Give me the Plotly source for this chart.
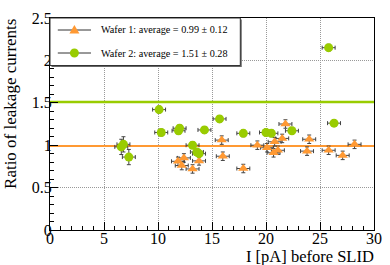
import plotly.graph_objects as go

# ---- data ----
wafer1_current = [11.85, 12.2, 12.4, 13.2, 13.8, 15.9, 16.0, 17.9, 19.2, 20.1,
                  20.7, 20.8, 21.1, 21.5, 21.8, 23.8, 24.0, 25.8, 27.1, 28.2]
wafer1_ratio = [0.81, 0.76, 0.85, 0.72, 0.815, 1.06, 0.87, 0.725, 1.00, 0.97,
                0.91, 1.04, 0.94, 1.08, 1.25, 0.93, 1.07, 0.94, 0.88, 1.01]
wafer1_current_err = [0.6] * len(wafer1_current)
wafer1_ratio_err = [0.05] * len(wafer1_ratio)

wafer2_current = [6.6, 6.8, 7.3, 10.1, 10.3, 11.9, 12.0, 13.2, 13.6, 13.8,
                  14.3, 15.7, 17.9, 20.0, 20.5, 22.4, 25.8, 26.3]
wafer2_ratio = [0.98, 1.01, 0.86, 1.42, 1.15, 1.17, 1.20, 1.00, 0.92, 0.90,
                1.18, 1.31, 1.14, 1.15, 1.14, 1.17, 2.15, 1.26]
wafer2_current_err = [0.6] * len(wafer2_current)
wafer2_ratio_err = [0.09, 0.09, 0.09, 0.04, 0.04, 0.04, 0.04, 0.04, 0.04, 0.04,
                    0.04, 0.04, 0.04, 0.04, 0.04, 0.04, 0.04, 0.04]

averages = [0.99, 1.51]
average_errs = [0.12, 0.28]
x_range = [0, 30]
y_range = [0, 2.5]

ORANGE = "#ff9933"
GREEN = "#99cc00"
FONT = "Liberation Serif"

W, H = 390, 265
L, R, T, B = 50, 8, 18, 35
PW, PH = W - L - R, H - T - B


def px(xp):
    return (xp - L) / PW


def py(yp):
    return (H - B - yp) / PH


fig = go.Figure()

# average lines
fig.add_trace(go.Scatter(x=x_range, y=[averages[0]] * 2, mode="lines",
                         line=dict(color=ORANGE, width=2), hoverinfo="skip", showlegend=False))
fig.add_trace(go.Scatter(x=x_range, y=[averages[1]] * 2, mode="lines",
                         line=dict(color=GREEN, width=2.5), hoverinfo="skip", showlegend=False))

err_style = dict(type="data", color="#444444", thickness=1, width=2)

fig.add_trace(go.Scatter(
    x=wafer1_current, y=wafer1_ratio, mode="markers",
    marker=dict(symbol="triangle-up", size=9, color=ORANGE, line=dict(width=0)),
    error_x=dict(array=wafer1_current_err, **err_style),
    error_y=dict(array=wafer1_ratio_err, **err_style),
    showlegend=False))

fig.add_trace(go.Scatter(
    x=wafer2_current, y=wafer2_ratio, mode="markers",
    marker=dict(symbol="circle", size=9, color=GREEN, line=dict(width=0)),
    error_x=dict(array=wafer2_current_err, **err_style),
    error_y=dict(array=wafer2_ratio_err, **err_style),
    showlegend=False))

shapes = []
annotations = []

# legend box
shapes.append(dict(type="rect", xref="paper", yref="paper",
                   x0=px(51.5), x1=px(246.5), y0=py(67), y1=py(19.5),
                   fillcolor="#666666", line=dict(width=0), layer="above"))
shapes.append(dict(type="rect", xref="paper", yref="paper",
                   x0=0, x1=px(245), y0=py(65.5), y1=1,
                   fillcolor="white", line=dict(color="#333333", width=1), layer="above"))

labels = [
    f"Wafer 1: average = {averages[0]:.2f} \u00b1 {average_errs[0]:.2f}",
    f"Wafer 2: average = {averages[1]:.2f} \u00b1 {average_errs[1]:.2f}",
]
rows = [30, 53]
for i, (lab, yrow) in enumerate(zip(labels, rows)):
    shapes.append(dict(type="line", xref="paper", yref="paper",
                       x0=px(58), x1=px(92), y0=py(yrow), y1=py(yrow),
                       line=dict(color="#333333", width=1), layer="above"))
    if i == 0:
        shapes.append(dict(type="path", xref="paper", yref="paper",
                           xsizemode="pixel", ysizemode="pixel",
                           xanchor=px(75), yanchor=py(yrow),
                           path="M -5 -3.5 L 5 -3.5 L 0 5 Z",
                           fillcolor=ORANGE, line=dict(width=0), layer="above"))
    else:
        shapes.append(dict(type="circle", xref="paper", yref="paper",
                           xsizemode="pixel", ysizemode="pixel",
                           xanchor=px(75), yanchor=py(yrow),
                           x0=-4.5, x1=4.5, y0=-4.5, y1=4.5,
                           fillcolor=GREEN, line=dict(width=0), layer="above"))
    annotations.append(dict(text=lab, xref="paper", yref="paper",
                            x=px(100), y=py(yrow), xanchor="left", yanchor="middle",
                            showarrow=False, font=dict(family=FONT, size=10.2, color="black")))

# axis titles
annotations.append(dict(text="I [pA] before SLID", xref="paper", yref="paper",
                        x=px(384), y=py(256), xanchor="right", yanchor="middle",
                        showarrow=False, font=dict(family=FONT, size=16.5, color="black")))
annotations.append(dict(text="Ratio of leakage currents", xref="paper", yref="paper",
                        x=px(10), y=py(17), xanchor="center", yanchor="top", textangle=-90,
                        showarrow=False, font=dict(family=FONT, size=17, color="black")))

axis_common = dict(
    showline=True, linecolor="black", linewidth=1, mirror=True,
    ticks="inside", ticklen=8, tickcolor="black", tickwidth=1,
    showgrid=True, gridcolor="#999999", griddash="1px,1px", gridwidth=1,
    zeroline=False,
    tickfont=dict(family=FONT, size=16, color="black"),
)

fig.update_layout(
    width=W, height=H,
    margin=dict(l=L, r=R, t=T, b=B, pad=0),
    paper_bgcolor="white", plot_bgcolor="white",
    font=dict(family=FONT),
    xaxis=dict(range=x_range, dtick=5, tick0=0, ticklabelstandoff=-6,
               minor=dict(dtick=1, ticklen=4, ticks="inside", tickcolor="black", showgrid=False),
               **axis_common),
    yaxis=dict(range=y_range, dtick=0.5, tick0=0, ticklabelstandoff=-6,
               minor=dict(dtick=0.1, ticklen=4, ticks="inside", tickcolor="black", showgrid=False),
               **axis_common),
    shapes=shapes, annotations=annotations, showlegend=False,
)

fig.write_html("out.html", config={"displayModeBar": False},
               post_script="document.body.style.margin='0';document.body.style.padding='0';")
